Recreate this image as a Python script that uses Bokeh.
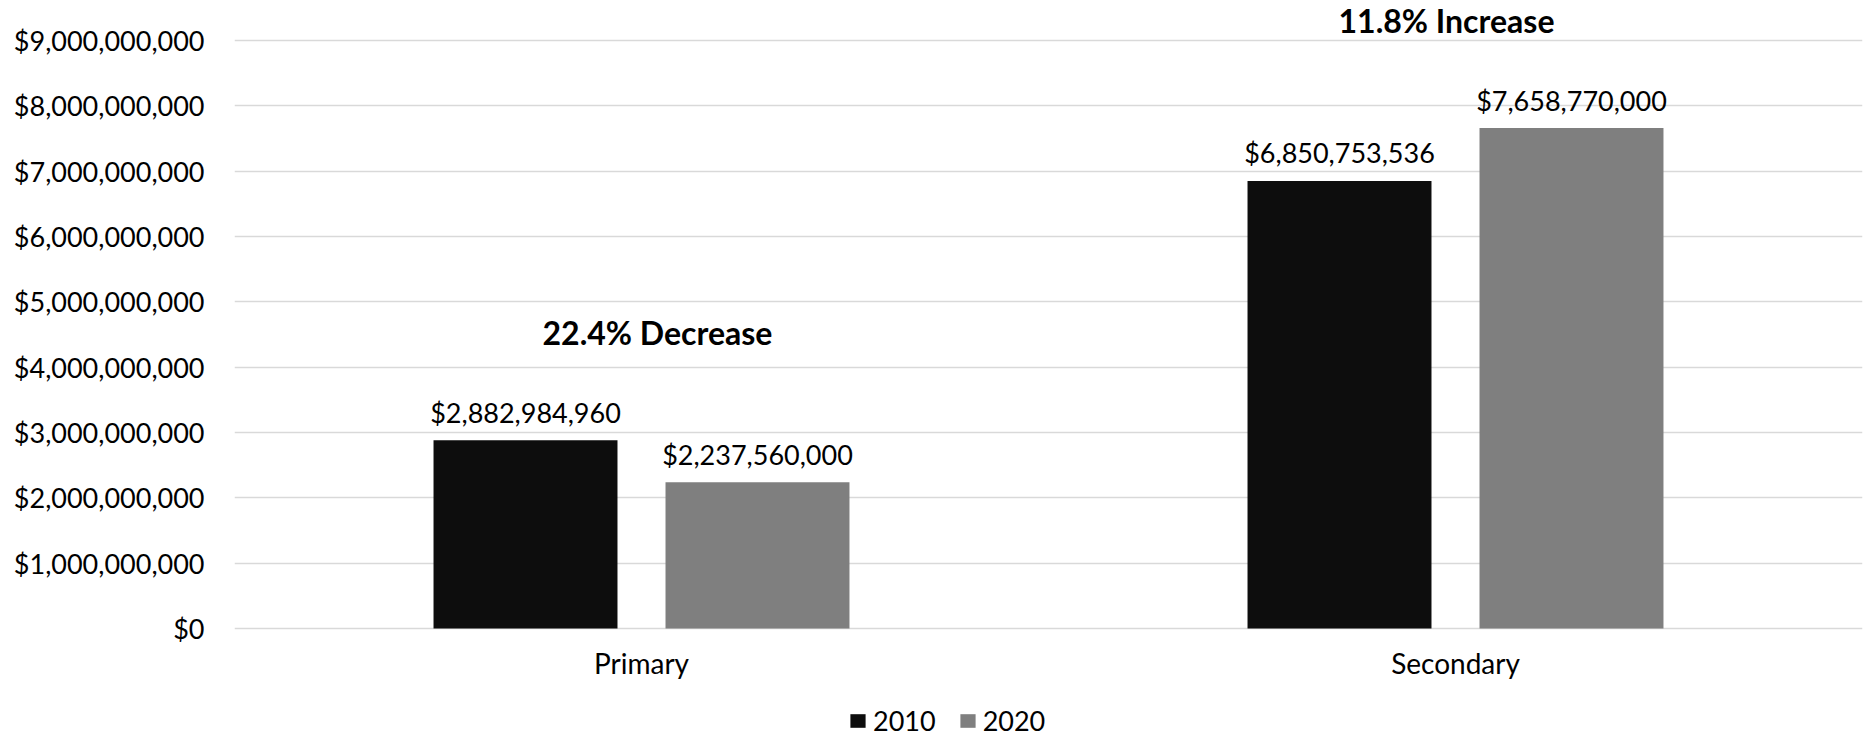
from bokeh.plotting import figure
from bokeh.models import (FactorRange, ColumnDataSource, FixedTicker, NumeralTickFormatter,
                          Legend, LegendItem, Range1d)
from bokeh.transform import dodge
from bokeh.core.properties import value
from bokeh.embed import file_html
from bokeh.resources import INLINE

# ---- data ----
categories = ["Primary", "Secondary"]
series_years = ["2010", "2020"]
values_2010 = [2882984960, 6850753536]
values_2020 = [2237560000, 7658770000]
y_ticks = [0, 1000000000, 2000000000, 3000000000, 4000000000, 5000000000,
           6000000000, 7000000000, 8000000000, 9000000000]

# ---- styles ----
FONT = "Lato"
C2010 = "#0D0D0D"
C2020 = "#7F7F7F"
GRID = "#D9D9D9"
TXT = "#000000"
BAR_W = 0.226
DODGE = 0.1425
ann_dx = [16, -9]  # screen-px nudges of the change annotations

lab10 = ["${:,}".format(v) for v in values_2010]
lab20 = ["${:,}".format(v) for v in values_2020]
ann_text = []
for a, b in zip(values_2010, values_2020):
    pct = (b - a) / a * 100
    ann_text.append("{:.1f}% {}".format(abs(pct), "Increase" if pct >= 0 else "Decrease"))
ymax = [max(a, b) for a, b in zip(values_2010, values_2020)]
zeros = [0 for _ in categories]

src = ColumnDataSource(dict(cat=categories, v10=values_2010, v20=values_2020,
                            lab10=lab10, lab20=lab20, ann=ann_text, ymax=ymax, dx=ann_dx,
                            base=zeros))

p = figure(x_range=FactorRange(*categories, range_padding=0),
           y_range=Range1d(-1.699e9, 9.612e9),
           width=1871, height=739, output_backend="svg", toolbar_location=None,
           x_axis_location=None,
           min_border_left=234, min_border_right=9, min_border_top=0, min_border_bottom=0)

r1 = p.vbar(x=dodge("cat", -DODGE, range=p.x_range), top="v10", width=BAR_W, source=src,
            fill_color=C2010, line_color=None)
r2 = p.vbar(x=dodge("cat", DODGE, range=p.x_range), top="v20", width=BAR_W, source=src,
            fill_color=C2020, line_color=None)

p.text(x=dodge("cat", -DODGE, range=p.x_range), y="v10", text="lab10", source=src,
       text_align="center", text_baseline="alphabetic", y_offset=-28,
       text_font=value(FONT), text_font_size="27px", text_color=TXT)
p.text(x=dodge("cat", DODGE, range=p.x_range), y="v20", text="lab20", source=src,
       text_align="center", text_baseline="alphabetic", y_offset=-28,
       text_font=value(FONT), text_font_size="27px", text_color=TXT)
p.text(x="cat", y="ymax", text="ann", source=src, x_offset="dx",
       text_align="center", text_baseline="alphabetic", y_offset=-108,
       text_font=value(FONT), text_font_size="32px", text_font_style="bold", text_color=TXT)
# category labels under the baseline
p.text(x="cat", y="base", text="cat", source=src,
       text_align="center", text_baseline="alphabetic", y_offset=35,
       text_font=value(FONT), text_font_size="28px", text_color=TXT)

p.outline_line_color = None
p.xgrid.grid_line_color = None
p.ygrid.grid_line_color = GRID
p.ygrid.grid_line_width = 1.5

p.yaxis.ticker = FixedTicker(ticks=y_ticks)
p.yaxis.formatter = NumeralTickFormatter(format="$0,0")
p.yaxis.axis_line_color = None
p.yaxis.major_tick_line_color = None
p.yaxis.minor_tick_line_color = None
p.yaxis.major_tick_out = 0
p.yaxis.major_label_standoff = 30
p.yaxis.major_label_text_font = FONT
p.yaxis.major_label_text_font_size = "27px"
p.yaxis.major_label_text_color = TXT

legend = Legend(items=[LegendItem(label=series_years[0], renderers=[r1]),
                       LegendItem(label=series_years[1], renderers=[r2])],
                orientation="horizontal", location=(614, 2),
                border_line_color=None, background_fill_alpha=0,
                padding=0, margin=0, spacing=22, glyph_width=19, glyph_height=17,
                label_standoff=6, label_height=17,
                label_text_font=FONT, label_text_font_size="27px", label_text_color=TXT)
p.add_layout(legend, "center")

open("out.html", "w").write(file_html(p, INLINE))
